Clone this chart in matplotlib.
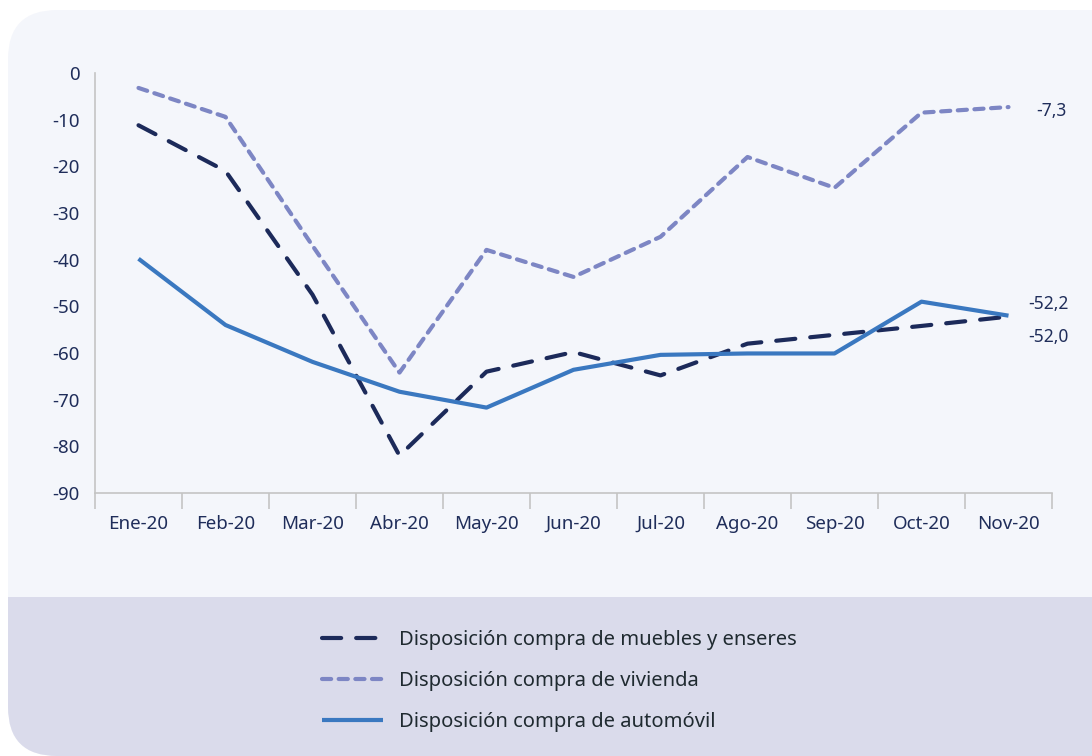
import numpy as np
import matplotlib
matplotlib.use("Agg")
import matplotlib.pyplot as plt
from matplotlib.patches import FancyBboxPatch, Rectangle

plt.rcParams['font.family'] = ['Noto Sans', 'DejaVu Sans']

meses = ['Ene-20', 'Feb-20', 'Mar-20', 'Abr-20', 'May-20', 'Jun-20',
         'Jul-20', 'Ago-20', 'Sep-20', 'Oct-20', 'Nov-20']
muebles = [-11.2, -21.0, -47.5, -82.0, -64.0, -59.8, -64.8, -58.0, -56.1, -54.2, -52.2]
vivienda = [-3.2, -9.4, -37.0, -64.2, -37.9, -43.7, -35.1, -18.0, -24.6, -8.5, -7.3]
automovil = [-39.8, -54.0, -61.9, -68.3, -71.7, -63.6, -60.4, -60.1, -60.1, -49.0, -52.0]

c_mueb = '#1c2a5a'
c_viv = '#7d86c4'
c_auto = '#3a78c0'
c_txt = '#1f2d5a'

W, H = 1092, 756
fig = plt.figure(figsize=(W / 100, H / 100), dpi=100)
fig.patch.set_facecolor('white')

# fondo redondeado + banda de leyenda
panel = FancyBboxPatch((8 / W, 0), 1.2, (H - 10) / H,
                       boxstyle="round,pad=0,rounding_size=0.045",
                       mutation_aspect=W / H,
                       transform=fig.transFigure, facecolor='#f4f6fb',
                       edgecolor='none', zorder=0)
fig.patches.append(panel)
band = Rectangle((0, 0), 1.2, (H - 597) / H, transform=fig.transFigure,
                 facecolor='#dadbeb', edgecolor='none', zorder=0.5)
band.set_clip_path(panel)
fig.patches.append(band)

ax = fig.add_axes([95 / W, 1 - 493 / H, 957 / W, 420 / H])
ax.set_facecolor('none')
ax.set_zorder(2)

x = np.arange(len(meses))
l1, = ax.plot(x, muebles, color=c_mueb, lw=3, dashes=(4.6, 3.6),
              dash_capstyle='round', solid_capstyle='round')
l2, = ax.plot(x, vivienda, color=c_viv, lw=3, dashes=(2.2, 1.8),
              dash_capstyle='round')
l3, = ax.plot(x, automovil, color=c_auto, lw=3, solid_capstyle='butt')

ax.set_xlim(-0.5, len(meses) - 0.5)
ax.set_ylim(-90, 0)
ax.set_yticks(np.arange(-90, 1, 10))
ax.set_yticklabels([str(v) for v in range(-90, 1, 10)])
ax.set_xticks(x)
ax.set_xticklabels(meses)
ax.set_xticks(np.arange(-0.5, len(meses), 1), minor=True)
ax.tick_params(axis='x', which='major', length=0, pad=16, labelsize=13.5, labelcolor=c_txt)
ax.tick_params(axis='x', which='minor', length=11.5, width=1.2, color='#c4c4c4')
ax.tick_params(axis='y', length=0, pad=11, labelsize=13.5, labelcolor=c_txt)
for s in ['top', 'right']:
    ax.spines[s].set_visible(False)
for s in ['left', 'bottom']:
    ax.spines[s].set_color('#c4c4c4')
    ax.spines[s].set_linewidth(1.2)

fmt = lambda v: ('%.1f' % v).replace('.', ',')
ax.annotate(fmt(vivienda[-1]), (x[-1], vivienda[-1]), xytext=(20, -3),
            textcoords='offset points', fontsize=12.5, color=c_txt, va='center')
ax.annotate(fmt(muebles[-1]), (x[-1], muebles[-1]), xytext=(14, 9),
            textcoords='offset points', fontsize=12.5, color=c_txt, va='center')
ax.annotate(fmt(automovil[-1]), (x[-1], automovil[-1]), xytext=(14, -15),
            textcoords='offset points', fontsize=12.5, color=c_txt, va='center')
for t in ax.texts:
    t.set_clip_on(False)

leg = fig.legend([l1, l2, l3],
                 ['Disposición compra de muebles y enseres',
                  'Disposición compra de vivienda',
                  'Disposición compra de automóvil'],
                 loc='upper left', bbox_to_anchor=(304 / W, 1 - 612 / H),
                 frameon=False, fontsize=14.5, handlelength=3.0,
                 handletextpad=0.8, labelspacing=1.05)
leg.set_zorder(3)
for t in leg.get_texts():
    t.set_color('#1f2a30')

fig.savefig('out.png', dpi=100, facecolor=fig.get_facecolor())
